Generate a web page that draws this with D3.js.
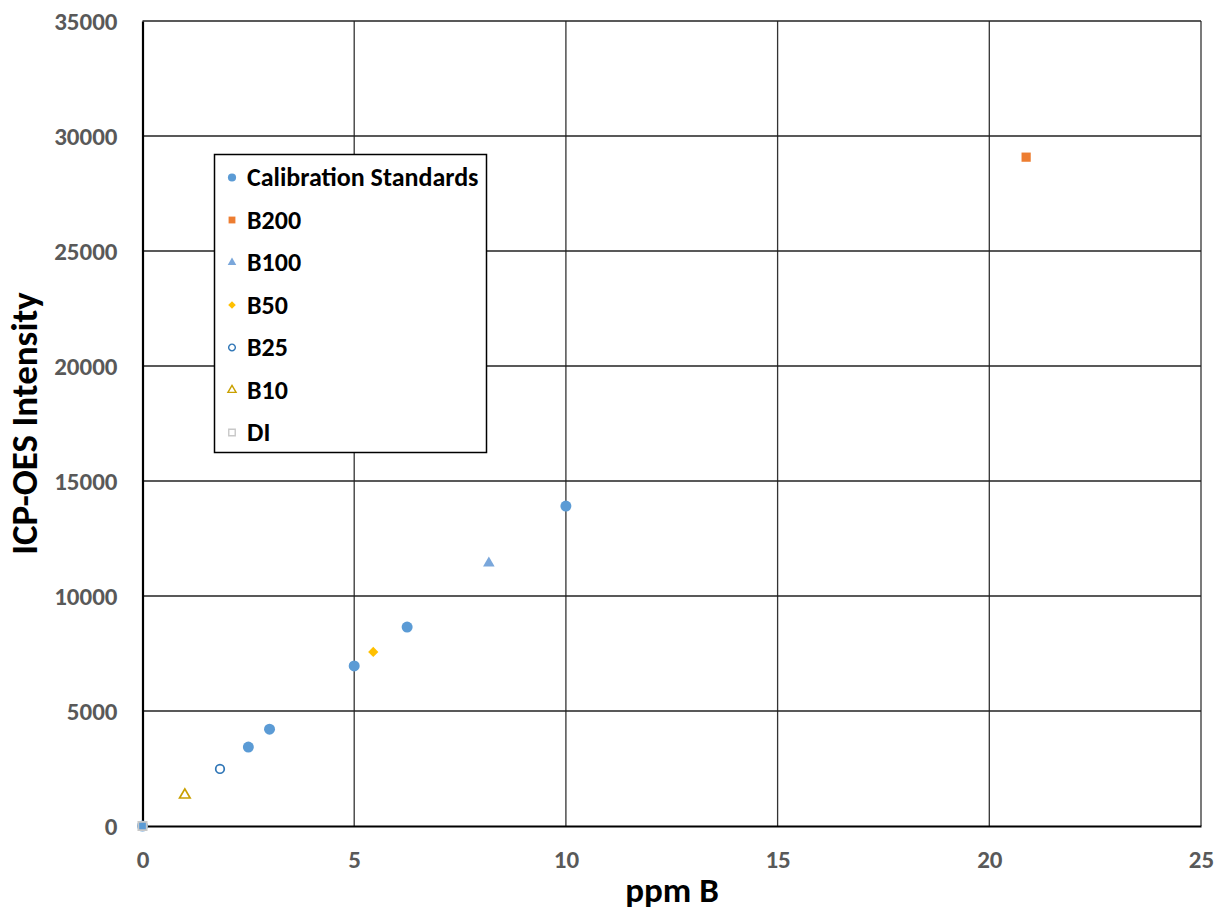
<!DOCTYPE html>
<html>
<head>
<meta charset="utf-8">
<script src="https://cdn.jsdelivr.net/npm/d3@7"></script>
<style>
  html, body { margin: 0; padding: 0; background: #fff; }
  svg { display: block; }
</style>
</head>
<body>
<svg id="chart" width="1218" height="912"></svg>
<script>
// ICP-OES intensity vs. boron concentration
const calibX = [0, 2.5, 3, 5, 6.25, 10];
const calibY = [0, 3430, 4210, 6960, 8650, 13910];
const b200 = [[20.87, 29080]];
const b100 = [[8.18, 11430]];
const b50  = [[5.45, 7570]];
const b25  = [[1.83, 2480]];
const b10  = [[1.0, 1350]];
const di   = [[0, 0]];

const xTicks = [0, 5, 10, 15, 20, 25];
const yTicks = [0, 5000, 10000, 15000, 20000, 25000, 30000, 35000];

const svg = d3.select("#chart");
const plotLeft = 142.5, plotRight = 1201, plotTop = 21, plotBottom = 826;

const x = d3.scaleLinear().domain([0, 25]).range([plotLeft, plotRight]);
const y = d3.scaleLinear().domain([0, 35000]).range([plotBottom, plotTop]);

const font = "Carlito, 'Open Sans', 'Liberation Sans', sans-serif";

// grid
const g = svg.append("g");
g.selectAll(".vg").data(xTicks.slice(1)).join("line")
  .attr("x1", d => x(d)).attr("x2", d => x(d))
  .attr("y1", plotTop).attr("y2", plotBottom)
  .attr("stroke", "#333").attr("stroke-width", 1.3);
g.selectAll(".hg").data(yTicks.slice(1)).join("line")
  .attr("x1", plotLeft).attr("x2", plotRight)
  .attr("y1", d => y(d)).attr("y2", d => y(d))
  .attr("stroke", "#222").attr("stroke-width", 1.3);

// axes
const xAxis = d3.axisBottom(x).tickValues(xTicks).tickSize(0).tickPadding(24)
  .tickFormat(d3.format("d"));
const yAxis = d3.axisLeft(y).tickValues(yTicks).tickSize(0).tickPadding(25)
  .tickFormat(d3.format("d"));
const gx = svg.append("g").attr("transform", `translate(0,${plotBottom})`).call(xAxis);
const gy = svg.append("g").attr("transform", `translate(${plotLeft},0)`).call(yAxis);
[gx, gy].forEach(a => {
  a.select(".domain").attr("stroke", "#000").attr("stroke-width", 2.2);
  a.selectAll("text")
    .attr("font-family", font).attr("font-weight", "bold")
    .attr("font-size", 25).attr("fill", "#595959");
});
gy.selectAll("text").attr("dy", "0.34em");

// axis titles
svg.append("text").attr("x", 672).attr("y", 902)
  .attr("text-anchor", "middle").attr("font-family", font)
  .attr("font-weight", "bold").attr("font-size", 35).attr("fill", "#000")
  .text("ppm B");
svg.append("text")
  .attr("transform", `translate(37,423.5) rotate(-90)`)
  .attr("text-anchor", "middle").attr("font-family", font)
  .attr("font-weight", "bold").attr("font-size", 37).attr("fill", "#000")
  .text("ICP-OES Intensity");

// series definitions
const calib = calibX.map((v, i) => [v, calibY[i]]);
const series = [
  { name: "Calibration Standards", data: calib, shape: d3.symbolCircle, size: 95, rot: 0, fill: "#5B9BD5", stroke: "none" },
  { name: "B200", data: b200, shape: d3.symbolSquare, size: 85, rot: 0, fill: "#ED7D31", stroke: "none" },
  { name: "B100", data: b100, shape: d3.symbolTriangle, size: 58, rot: 0, fill: "#7AA7DB", stroke: "none" },
  { name: "B50",  data: b50,  shape: d3.symbolSquare, size: 52, rot: 45, fill: "#FFC000", stroke: "none" },
  { name: "B25",  data: b25,  shape: d3.symbolCircle, size: 58, rot: 0, fill: "none", stroke: "#2E75B6" },
  { name: "B10",  data: b10,  shape: d3.symbolTriangle, size: 48, rot: 0, fill: "none", stroke: "#C9A000" },
  { name: "DI",   data: di,   shape: d3.symbolSquare, size: 70, rot: 0, fill: "none", stroke: "#C8C8C8" }
];

const marks = svg.append("g");
series.forEach(s => {
  marks.selectAll(null).data(s.data).join("path")
    .attr("transform", d => `translate(${x(d[0])},${y(d[1])}) rotate(${s.rot})`)
    .attr("d", d3.symbol().type(s.shape).size(s.size))
    .attr("fill", s.fill).attr("stroke", s.stroke).attr("stroke-width", 1.7);
});

// legend
const lg = svg.append("g");
lg.append("rect").attr("x", 214.5).attr("y", 154.5).attr("width", 272).attr("height", 298)
  .attr("fill", "#fff").attr("stroke", "#000").attr("stroke-width", 1.5);
series.forEach((s, i) => {
  const cy = 177.5 + i * 42.5;
  const small = s.stroke === "none" ? s.size * 0.55 : s.size * 0.6;
  lg.append("path").attr("transform", `translate(232,${cy}) rotate(${s.rot})`)
    .attr("d", d3.symbol().type(s.shape).size(small))
    .attr("fill", s.fill).attr("stroke", s.stroke).attr("stroke-width", 1.4);
  lg.append("text").attr("x", 247).attr("y", cy).attr("dy", "0.34em")
    .attr("font-family", font).attr("font-weight", "bold")
    .attr("font-size", 26).attr("fill", "#000").text(s.name);
});
</script>
</body>
</html>
